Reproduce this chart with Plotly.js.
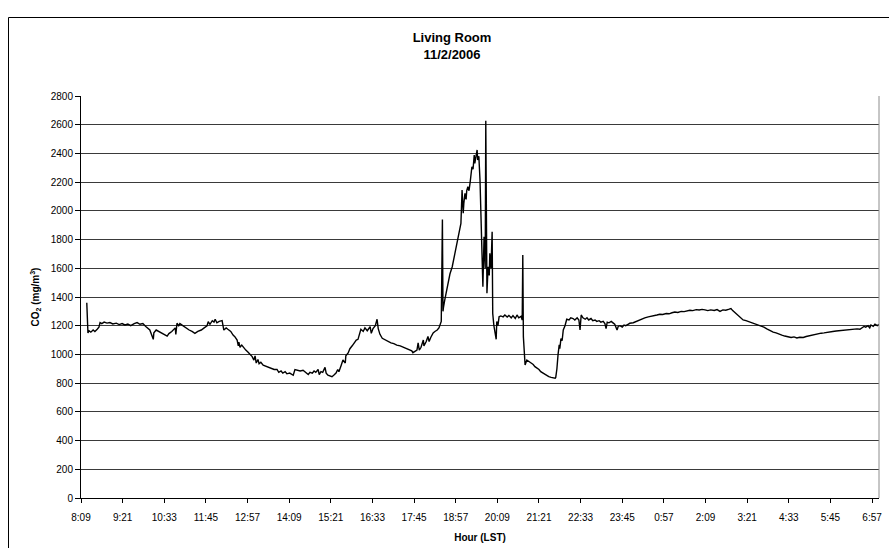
<!DOCTYPE html>
<html>
<head>
<meta charset="utf-8">
<script src="https://cdn.plot.ly/plotly-3.0.1.min.js"></script>
<style>
html,body{margin:0;padding:0;background:#fff;}
#chart{width:889px;height:548px;}
</style>
</head>
<body>
<div id="chart"></div>
<script>
// Tick labels (every 72 minutes from 8:09)
const tickLabels = ["8:09","9:21","10:33","11:45","12:57","14:09","15:21","16:33","17:45","18:57",
  "20:09","21:21","22:33","23:45","0:57","2:09","3:21","4:33","5:45","6:57"];
const tickMinutes = [0,72,144,216,288,360,432,504,576,648,720,792,864,936,1008,1080,1152,1224,1296,1368];

// Minutes after 8:09 (LST)
const minutes = [
 10,12,14,17,21,24,28,31,33,36,40,45,50,55,61,66,71,76,81,86,92,97,102,107,112,116,119,125,126,130,
 135,140,145,149,152,157,163,164,166,169,171,176,182,187,192,197,202,208,213,218,220,223,227,230,232,235,239,244,247,251,
 254,259,263,266,270,272,273,275,278,282,285,289,292,296,299,301,303,306,308,311,315,318,323,329,334,339,342,346,349,353,
 356,361,367,370,374,379,384,389,393,396,400,403,406,410,412,415,418,422,424,427,431,434,437,441,444,446,450,453,457,458,
 462,465,469,472,476,479,482,484,488,491,495,498,500,502,505,509,512,514,517,521,526,531,536,541,546,552,557,562,567,572,
 574,578,581,583,585,588,592,593,597,600,602,605,609,612,616,619,621,623,625,626,627,629,633,635,638,642,645,647,650,652,
 656,657,659,661,662,664,666,667,669,671,673,674,676,678,680,681,683,685,686,688,690,692,693,695,697,699,700,702,704,706,
 707,709,711,712,714,716,718,719,721,723,726,730,733,737,740,744,747,751,754,757,761,763,764,765,768,771,775,778,782,785,
 789,792,795,799,802,806,809,813,816,820,821,823,825,827,828,830,832,834,837,840,844,847,851,854,858,861,863,865,868,872,
 875,878,882,885,889,892,896,899,903,906,908,910,913,917,920,923,927,929,932,936,939,942,946,949,955,960,965,970,975,981,
 986,991,996,1001,1006,1012,1017,1022,1027,1032,1038,1043,1048,1053,1058,1064,1069,1074,1079,1084,1089,1095,1100,1105,1110,1115,1121,1124,1127,1131,
 1134,1138,1141,1145,1150,1155,1160,1166,1171,1176,1181,1186,1192,1197,1202,1207,1212,1217,1223,1228,1233,1238,1243,1249,1254,1259,1264,1269,1274,1280,
 1285,1290,1295,1300,1306,1311,1316,1321,1326,1332,1337,1342,1347,1351,1354,1357,1361,1364,1366,1370,1373,1377,1380
];

// CO2 concentration (mg/m3)
const co2 = [
 1360,1150,1165,1155,1170,1160,1175,1190,1222,1215,1225,1218,1222,1212,1218,1208,1215,1205,1212,1200,1215,1222,1210,1215,1195,1180,1170,1105,1150,1170,
 1160,1150,1135,1128,1145,1160,1185,1140,1217,1200,1215,1200,1185,1170,1160,1147,1160,1170,1185,1200,1228,1210,1235,1225,1245,1220,1230,1235,1170,1185,
 1175,1160,1135,1124,1100,1060,1085,1050,1065,1040,1030,1015,1000,985,960,990,940,965,935,945,925,920,915,905,895,895,875,885,870,880,
 865,870,855,895,890,885,890,870,860,875,870,885,875,895,860,880,875,910,870,855,850,845,855,870,895,880,925,961,940,990,
 1010,1040,1060,1080,1100,1105,1140,1175,1160,1185,1165,1185,1193,1147,1180,1200,1245,1180,1140,1112,1100,1090,1080,1075,1065,1060,1050,1045,1035,1025,
 1012,1020,1030,1080,1030,1050,1100,1060,1090,1125,1090,1120,1150,1160,1170,1185,1210,1230,1940,1300,1332,1379,1460,1518,1560,1611,1670,1704,1760,1820,
 1880,1913,2145,1983,2050,2122,2080,2140,2168,2140,2200,2250,2307,2290,2389,2330,2370,2424,2354,2380,2215,1936,1750,1472,1820,1600,2628,1426,1611,1550,
 1704,1600,1855,1286,1200,1149,1105,1230,1200,1262,1268,1262,1275,1260,1272,1255,1270,1250,1275,1255,1265,1240,1692,1124,926,961,950,940,930,915,
 905,895,880,870,860,855,845,840,838,835,840,900,1000,1066,1040,1110,1095,1170,1200,1245,1240,1255,1250,1240,1255,1240,1170,1275,1255,1245,
 1255,1240,1250,1235,1240,1230,1235,1225,1230,1215,1180,1225,1220,1230,1220,1210,1170,1195,1200,1190,1205,1200,1210,1217,1221,1230,1240,1248,1255,1262,
 1268,1270,1275,1280,1278,1285,1283,1290,1295,1292,1300,1298,1305,1308,1305,1312,1310,1314,1310,1305,1310,1306,1312,1300,1310,1308,1315,1320,1305,1290,
 1275,1260,1250,1240,1235,1228,1220,1212,1205,1198,1190,1178,1165,1155,1150,1140,1135,1128,1125,1118,1122,1115,1120,1118,1125,1130,1135,1140,1145,1148,
 1150,1155,1158,1160,1163,1165,1168,1170,1172,1175,1172,1178,1175,1190,1195,1190,1200,1185,1205,1195,1210,1200,1210
];

const trace = {
  x: minutes,
  y: co2,
  type: 'scatter',
  mode: 'lines',
  line: {color: '#000000', width: 1.4},
  hoverinfo: 'skip'
};

const layout = {
  width: 889,
  height: 548,
  margin: {l: 81, r: 10, t: 96, b: 50},
  paper_bgcolor: '#ffffff',
  plot_bgcolor: '#ffffff',
  showlegend: false,
  font: {family: '"Liberation Sans", Arial, sans-serif', color: '#000', size: 10},
  title: {
    text: '<b>Living Room</b><br><b>11/2/2006</b>',
    font: {family: '"Liberation Sans", Arial, sans-serif', size: 13, color: '#000'},
    x: 452 / 889, xref: 'container', xanchor: 'center',
    y: 1 - 42 / 548, yref: 'container', yanchor: 'middle'
  },
  xaxis: {
    range: [0, 1380],
    tickmode: 'array',
    tickvals: tickMinutes,
    ticktext: tickLabels,
    showgrid: false,
    zeroline: false,
    showline: true,
    linecolor: '#000',
    linewidth: 1,
    ticks: 'outside',
    ticklen: 4,
    tickcolor: '#000',
    tickfont: {size: 10},
    ticklabelstandoff: 6,
    title: {text: '<b>Hour (LST)</b>', font: {size: 10}, standoff: 11}
  },
  yaxis: {
    range: [0, 2800],
    dtick: 200,
    tick0: 0,
    showgrid: true,
    gridcolor: '#3a3a3a',
    gridwidth: 1,
    zeroline: false,
    showline: true,
    linecolor: '#000',
    linewidth: 1,
    ticks: 'outside',
    ticklen: 5,
    tickcolor: '#000',
    tickfont: {size: 10},
    title: {text: '<b>CO<sub>2</sub> (mg/m<sup>3</sup>)</b>', font: {size: 10}, standoff: 9}
  },
  shapes: [
    {type: 'line', xref: 'paper', yref: 'paper', x0: 1, x1: 1, y0: 0, y1: 1,
     line: {color: '#8c8c8c', width: 1}},
    {type: 'rect', xref: 'paper', yref: 'paper',
     x0: (8.5 - 81) / 798, x1: (892 - 81) / 798,
     y0: (498 - 552) / 402, y1: (498 - 17.5) / 402,
     line: {color: '#000', width: 1}, fillcolor: 'rgba(0,0,0,0)', layer: 'below'}
  ]
};

Plotly.newPlot('chart', [trace], layout, {displayModeBar: false, staticPlot: true});
</script>
</body>
</html>
